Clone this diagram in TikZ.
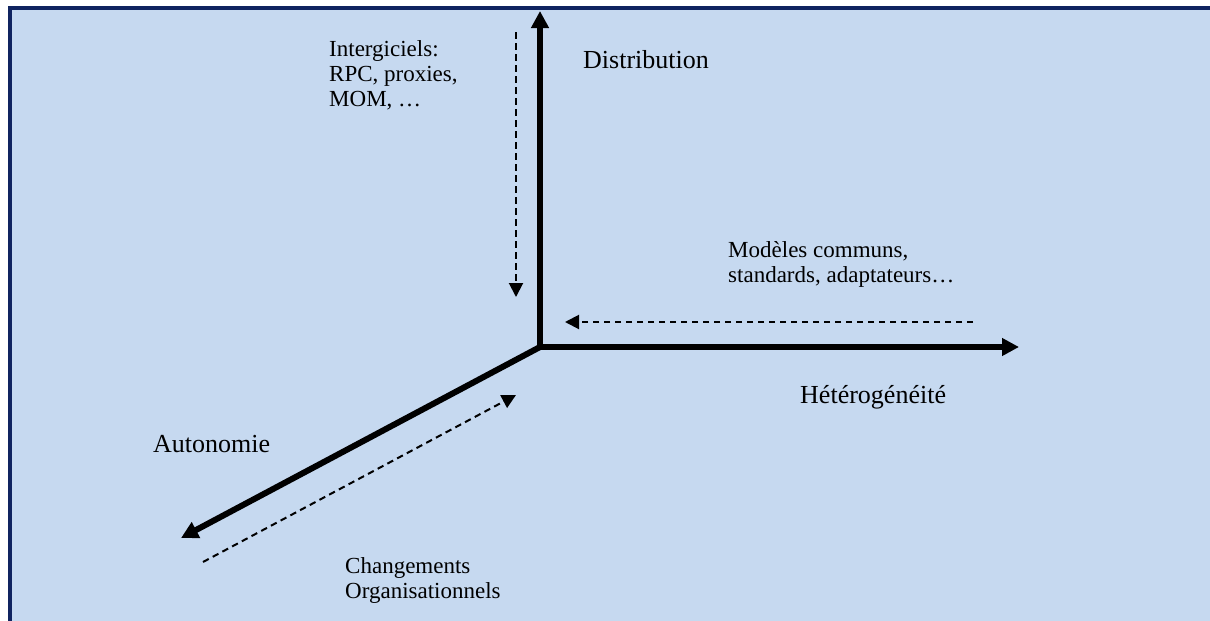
\documentclass[tikz,border=0pt]{standalone}
\usepackage{fontspec}
\setmainfont{Liberation Serif}
\usetikzlibrary{arrows.meta}
\definecolor{fondbleu}{RGB}{198,217,240}
\definecolor{bordbleu}{RGB}{16,36,96}

\begin{document}
\begin{tikzpicture}[x=1pt,y=-1pt,
	axe/.style={line width=6pt,-{Triangle[length=17pt,width=17pt]}},
	pointille/.style={line width=2pt,dash pattern=on 6.5pt off 4.5pt,-{Triangle[length=14pt,width=14pt]}},
	etiquette/.style={anchor=base west,inner sep=0pt,font=\fontsize{26}{28}\selectfont,align=left},
	bloc/.style={etiquette,font=\fontsize{23}{25}\selectfont}]
	\useasboundingbox (0,0) rectangle (1210,621);
	% draw the background
	\fill[fondbleu] (8,6) rectangle (1210,621);
	\draw[bordbleu,line width=4pt] (10,621) -- (10,8) -- (1210,8);
	% draw the axis
	\coordinate (O) at (540,347);
	\coordinate (haut) at (540,11);
	\coordinate (droite) at (1019,347);
	\coordinate (gauche) at (181,538);
	\draw[axe] (O) -- (haut);
	\draw[axe] (O) -- (droite);
	\draw[axe] (O) -- (gauche);
	%draw the dashed arrows
	\coordinate (v1) at (516,32);  \coordinate (v2) at (516,297);
	\coordinate (h1) at (973,322); \coordinate (h2) at (565,322);
	\coordinate (d1) at (203,562); \coordinate (d2) at (516,395);
	\draw[pointille] (v1) -- (v2);
	\draw[pointille] (h1) -- (h2);
	\draw[pointille] (d1) -- (d2);
	% labels (base = last line)
	\node[bloc] (intergiciels) at (329,106) {Intergiciels:\\RPC, proxies,\\MOM, …};
	\node[etiquette] (distribution) at (583,68) {Distribution};
	\node[bloc] (modeles) at (728,282) {Modèles communs,\\standards, adaptateurs…};
	\node[etiquette] (heterogeneite) at (800,403) {Hétérogénéité};
	\node[etiquette] (autonomie) at (153,452) {Autonomie};
	\node[bloc] (changements) at (345,598) {Changements\\Organisationnels};
\end{tikzpicture}
\end{document}
